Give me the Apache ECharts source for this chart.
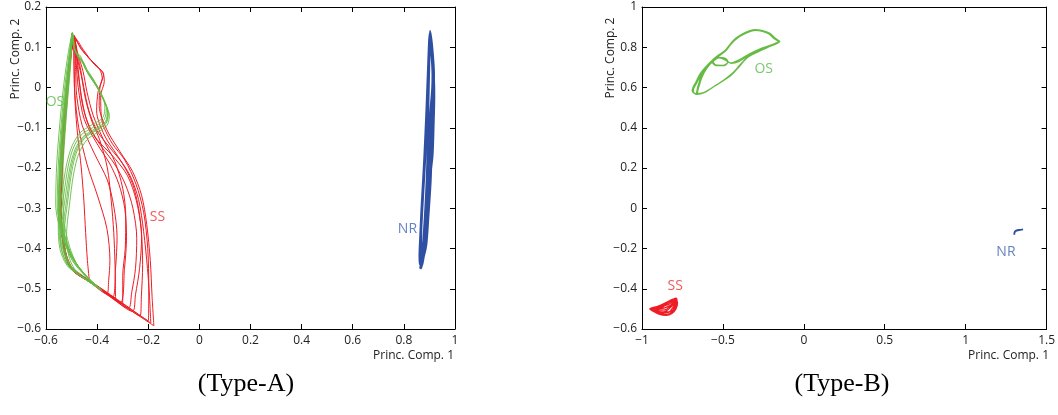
<!DOCTYPE html>
<html><head><meta charset="utf-8">
<script src="https://cdn.jsdelivr.net/npm/echarts@6/dist/echarts.min.js"></script>
<style>html,body{margin:0;padding:0;background:#fff}#c{width:1058px;height:415px}</style>
</head><body><div id="c"></div>
<script>
// ---- tick labels ----
const xTicksA = [-0.6, -0.4, -0.2, 0, 0.2, 0.4, 0.6, 0.8, 1];
const yTicksA = [-0.6, -0.5, -0.4, -0.3, -0.2, -0.1, 0, 0.1, 0.2];
const xTicksB = [-1, -0.5, 0, 0.5, 1, 1.5];
const yTicksB = [-0.6, -0.4, -0.2, 0, 0.2, 0.4, 0.6, 0.8, 1];

// ---- Type-A trajectories (one cycle per inner array) ----
const ssA = [
 [[-0.49,0.13],[-0.47,0.105],[-0.435,0.075],[-0.395,0.05],[-0.375,0.032],[-0.388,0.005],[-0.392,-0.045],[-0.362,-0.105],[-0.312,-0.158],[-0.262,-0.208],[-0.226,-0.268],[-0.206,-0.34],[-0.192,-0.43],[-0.185,-0.52],[-0.178,-0.592],[-0.3,-0.54],[-0.42,-0.487],[-0.5,-0.452],[-0.528,-0.4],[-0.542,-0.3],[-0.537,-0.2],[-0.527,-0.1],[-0.515,0.0],[-0.502,0.08]],
 [[-0.488,0.122],[-0.462,0.095],[-0.425,0.068],[-0.39,0.045],[-0.38,0.022],[-0.396,-0.01],[-0.402,-0.058],[-0.372,-0.118],[-0.322,-0.168],[-0.272,-0.218],[-0.238,-0.278],[-0.218,-0.358],[-0.203,-0.45],[-0.195,-0.52],[-0.19,-0.585],[-0.31,-0.533],[-0.43,-0.482],[-0.502,-0.448],[-0.53,-0.39],[-0.545,-0.29],[-0.54,-0.19],[-0.53,-0.09],[-0.517,0.01],[-0.503,0.085]],
 [[-0.492,0.128],[-0.48,0.09],[-0.466,0.05],[-0.452,0.0],[-0.432,-0.058],[-0.4,-0.108],[-0.352,-0.148],[-0.302,-0.188],[-0.262,-0.238],[-0.238,-0.3],[-0.226,-0.372],[-0.234,-0.45],[-0.25,-0.515],[-0.262,-0.556],[-0.36,-0.512],[-0.45,-0.472],[-0.505,-0.445],[-0.532,-0.38],[-0.546,-0.28],[-0.54,-0.18],[-0.528,-0.08],[-0.515,0.02],[-0.5,0.09]],
 [[-0.49,0.12],[-0.478,0.07],[-0.47,0.02],[-0.458,-0.04],[-0.43,-0.1],[-0.385,-0.145],[-0.332,-0.19],[-0.29,-0.24],[-0.26,-0.3],[-0.245,-0.375],[-0.25,-0.45],[-0.265,-0.51],[-0.278,-0.548],[-0.38,-0.503],[-0.46,-0.468],[-0.503,-0.45],[-0.526,-0.41],[-0.54,-0.32],[-0.538,-0.22],[-0.53,-0.12],[-0.52,-0.02],[-0.505,0.07]],
 [[-0.494,0.125],[-0.482,0.06],[-0.474,0.0],[-0.45,-0.08],[-0.4,-0.14],[-0.35,-0.19],[-0.315,-0.24],[-0.292,-0.3],[-0.285,-0.37],[-0.293,-0.45],[-0.31,-0.535],[-0.4,-0.495],[-0.47,-0.463],[-0.505,-0.447],[-0.53,-0.4],[-0.543,-0.31],[-0.54,-0.21],[-0.532,-0.11],[-0.52,-0.01],[-0.507,0.07]],
 [[-0.49,0.115],[-0.484,0.04],[-0.48,-0.02],[-0.458,-0.095],[-0.41,-0.165],[-0.36,-0.23],[-0.335,-0.295],[-0.322,-0.37],[-0.328,-0.45],[-0.34,-0.522],[-0.43,-0.482],[-0.5,-0.45],[-0.528,-0.4],[-0.54,-0.3],[-0.536,-0.2],[-0.526,-0.1],[-0.514,0.0],[-0.502,0.08]],
 [[-0.493,0.13],[-0.49,0.05],[-0.488,-0.01],[-0.472,-0.1],[-0.44,-0.19],[-0.398,-0.27],[-0.362,-0.35],[-0.35,-0.43],[-0.355,-0.48],[-0.362,-0.513],[-0.44,-0.478],[-0.503,-0.45],[-0.53,-0.39],[-0.544,-0.29],[-0.538,-0.19],[-0.528,-0.09],[-0.516,0.01],[-0.503,0.09]],
 [[-0.49,0.125],[-0.452,0.092],[-0.412,0.058],[-0.378,0.038],[-0.372,0.015],[-0.386,-0.02],[-0.382,-0.08],[-0.342,-0.138],[-0.292,-0.18],[-0.248,-0.24],[-0.218,-0.31],[-0.202,-0.4],[-0.198,-0.5],[-0.2,-0.58],[-0.32,-0.527],[-0.44,-0.475],[-0.504,-0.448],[-0.53,-0.4],[-0.544,-0.3],[-0.54,-0.2],[-0.53,-0.1],[-0.518,0.0],[-0.504,0.08]],
 [[-0.492,0.125],[-0.49,0.04],[-0.486,-0.04],[-0.476,-0.12],[-0.462,-0.2],[-0.452,-0.28],[-0.445,-0.36],[-0.438,-0.43],[-0.43,-0.482],[-0.48,-0.46],[-0.512,-0.44],[-0.535,-0.38],[-0.547,-0.28],[-0.54,-0.18],[-0.53,-0.08],[-0.516,0.02],[-0.502,0.09]],
 [[-0.49,0.128],[-0.48,0.08],[-0.462,0.03],[-0.445,-0.03],[-0.42,-0.085],[-0.39,-0.13],[-0.36,-0.2],[-0.345,-0.28],[-0.335,-0.36],[-0.33,-0.44],[-0.328,-0.525],[-0.42,-0.487],[-0.5,-0.451],[-0.529,-0.39],[-0.543,-0.29],[-0.538,-0.19],[-0.528,-0.09],[-0.515,0.01],[-0.502,0.085]],
 [[-0.491,0.126],[-0.476,0.085],[-0.455,0.04],[-0.44,-0.01],[-0.415,-0.07],[-0.375,-0.13],[-0.33,-0.185],[-0.3,-0.25],[-0.288,-0.32],[-0.29,-0.4],[-0.3,-0.47],[-0.3,-0.538],[-0.41,-0.49],[-0.49,-0.455],[-0.527,-0.4],[-0.542,-0.3],[-0.538,-0.2],[-0.528,-0.1],[-0.516,0.0],[-0.503,0.08]],
 [[-0.489,0.127],[-0.477,0.05],[-0.462,-0.02],[-0.442,-0.078],[-0.402,-0.128],[-0.342,-0.168],[-0.282,-0.218],[-0.247,-0.28],[-0.228,-0.35],[-0.222,-0.44],[-0.227,-0.52],[-0.232,-0.568],[-0.35,-0.516],[-0.45,-0.472],[-0.503,-0.449],[-0.532,-0.39],[-0.545,-0.3],[-0.541,-0.2],[-0.53,-0.1],[-0.518,0.0],[-0.504,0.08],[-0.49,0.13]]
];
const osA = [
 [[-0.497,0.137],[-0.49,0.1],[-0.475,0.078],[-0.455,0.065],[-0.442,0.042],[-0.412,0.016],[-0.382,-0.018],[-0.36,-0.058],[-0.368,-0.085],[-0.412,-0.104],[-0.455,-0.122],[-0.487,-0.155],[-0.507,-0.2],[-0.524,-0.27],[-0.538,-0.35],[-0.53,-0.41],[-0.5,-0.45],[-0.45,-0.474],[-0.39,-0.5],[-0.44,-0.47],[-0.49,-0.43],[-0.524,-0.38],[-0.55,-0.3],[-0.546,-0.2],[-0.536,-0.1],[-0.521,0.0],[-0.506,0.08]],
 [[-0.495,0.132],[-0.485,0.09],[-0.465,0.07],[-0.445,0.05],[-0.43,0.03],[-0.4,0.0],[-0.372,-0.035],[-0.352,-0.07],[-0.362,-0.095],[-0.4,-0.112],[-0.44,-0.13],[-0.472,-0.165],[-0.492,-0.215],[-0.508,-0.29],[-0.52,-0.37],[-0.508,-0.425],[-0.478,-0.46],[-0.432,-0.482],[-0.38,-0.505],[-0.428,-0.48],[-0.474,-0.445],[-0.508,-0.395],[-0.532,-0.32],[-0.534,-0.22],[-0.526,-0.12],[-0.514,-0.02],[-0.502,0.07]],
 [[-0.499,0.134],[-0.494,0.105],[-0.482,0.088],[-0.465,0.078],[-0.452,0.056],[-0.424,0.03],[-0.393,-0.005],[-0.37,-0.045],[-0.377,-0.074],[-0.424,-0.094],[-0.466,-0.112],[-0.498,-0.145],[-0.519,-0.19],[-0.537,-0.26],[-0.552,-0.34],[-0.546,-0.4],[-0.518,-0.442],[-0.466,-0.468],[-0.4,-0.496],[-0.452,-0.462],[-0.502,-0.418],[-0.538,-0.368],[-0.562,-0.29],[-0.558,-0.19],[-0.546,-0.09],[-0.53,0.01],[-0.512,0.09]],
 [[-0.498,0.135],[-0.506,0.07],[-0.518,-0.02],[-0.53,-0.12],[-0.542,-0.22],[-0.55,-0.31],[-0.544,-0.39],[-0.515,-0.44],[-0.46,-0.47],[-0.392,-0.499],[-0.45,-0.465],[-0.5,-0.425],[-0.534,-0.37],[-0.552,-0.3],[-0.548,-0.2],[-0.538,-0.1],[-0.523,0.0],[-0.508,0.08]],
 [[-0.496,0.136],[-0.487,0.092],[-0.468,0.068],[-0.448,0.055],[-0.436,0.034],[-0.406,0.006],[-0.377,-0.028],[-0.356,-0.066],[-0.366,-0.09],[-0.407,-0.108],[-0.449,-0.126],[-0.48,-0.16],[-0.499,-0.208],[-0.515,-0.282],[-0.528,-0.36],[-0.52,-0.418],[-0.49,-0.455],[-0.44,-0.479],[-0.384,-0.502],[-0.433,-0.474],[-0.482,-0.436],[-0.516,-0.388],[-0.542,-0.31],[-0.541,-0.21],[-0.531,-0.11],[-0.517,-0.01],[-0.504,0.075]],
 [[-0.498,0.135],[-0.492,0.102],[-0.478,0.082],[-0.46,0.07],[-0.448,0.048],[-0.418,0.022],[-0.388,-0.012],[-0.364,-0.052],[-0.373,-0.08],[-0.418,-0.1],[-0.461,-0.117],[-0.493,-0.15],[-0.513,-0.195],[-0.53,-0.265],[-0.545,-0.345],[-0.538,-0.405],[-0.51,-0.446],[-0.458,-0.471],[-0.395,-0.498],[-0.446,-0.466],[-0.496,-0.424],[-0.531,-0.374],[-0.556,-0.295],[-0.552,-0.195],[-0.541,-0.095],[-0.526,0.005],[-0.509,0.085]],
 [[-0.497,0.136],[-0.503,0.075],[-0.514,-0.01],[-0.527,-0.11],[-0.539,-0.21],[-0.547,-0.3],[-0.54,-0.385],[-0.51,-0.438],[-0.455,-0.468],[-0.388,-0.5],[-0.446,-0.468],[-0.497,-0.43],[-0.53,-0.375],[-0.549,-0.305],[-0.545,-0.205],[-0.535,-0.105],[-0.52,-0.005],[-0.506,0.078]],
 [[-0.497,0.133],[-0.488,0.097],[-0.471,0.074],[-0.451,0.06],[-0.438,0.038],[-0.408,0.01],[-0.379,-0.024],[-0.358,-0.063],[-0.367,-0.089],[-0.41,-0.107],[-0.452,-0.124],[-0.484,-0.158],[-0.503,-0.204],[-0.519,-0.277],[-0.533,-0.356],[-0.525,-0.414],[-0.495,-0.452],[-0.445,-0.477],[-0.387,-0.502],[-0.437,-0.472],[-0.487,-0.432],[-0.52,-0.384],[-0.546,-0.306],[-0.544,-0.206],[-0.534,-0.106],[-0.519,-0.006],[-0.505,0.078],[-0.497,0.136]]
];
const nrA = [
 [[0.902,0.142],[0.91,0.11],[0.917,0.05],[0.916,-0.03],[0.914,-0.1],[0.908,-0.19],[0.898,-0.29],[0.888,-0.37],[0.877,-0.425],[0.867,-0.45],[0.863,-0.425],[0.867,-0.36],[0.874,-0.28],[0.882,-0.19],[0.889,-0.09],[0.894,0.01],[0.898,0.1]],
 [[0.9,0.135],[0.909,0.1],[0.915,0.04],[0.913,-0.04],[0.91,-0.11],[0.904,-0.2],[0.894,-0.3],[0.884,-0.38],[0.874,-0.43],[0.866,-0.44],[0.865,-0.41],[0.87,-0.34],[0.877,-0.26],[0.885,-0.17],[0.891,-0.07],[0.896,0.03],[0.9,0.12]],
 [[0.903,0.14],[0.912,0.1],[0.919,0.03],[0.917,-0.06],[0.912,-0.13],[0.905,-0.22],[0.895,-0.31],[0.885,-0.39],[0.873,-0.44],[0.864,-0.445],[0.862,-0.4],[0.866,-0.33],[0.873,-0.25],[0.88,-0.16],[0.887,-0.06],[0.893,0.04],[0.898,0.12]],
 [[0.901,0.13],[0.911,0.09],[0.916,0.02],[0.915,-0.05],[0.911,-0.12],[0.906,-0.23],[0.897,-0.32],[0.889,-0.39],[0.879,-0.42],[0.87,-0.43],[0.868,-0.39],[0.872,-0.31],[0.879,-0.23],[0.886,-0.14],[0.892,-0.04],[0.897,0.06],[0.901,0.13]],
 [[0.904,0.12],[0.913,0.07],[0.918,0.0],[0.914,-0.08],[0.909,-0.16],[0.902,-0.25],[0.892,-0.33],[0.882,-0.4],[0.871,-0.44],[0.865,-0.435],[0.866,-0.38],[0.871,-0.3],[0.878,-0.21],[0.884,-0.12],[0.89,-0.02],[0.895,0.07],[0.902,0.14]],
 [[0.905,0.13],[0.912,0.08],[0.91,0.0],[0.9,-0.08],[0.895,-0.16],[0.893,-0.25],[0.885,-0.33],[0.876,-0.4],[0.868,-0.44],[0.872,-0.41],[0.88,-0.35],[0.89,-0.27],[0.9,-0.18],[0.908,-0.1],[0.912,-0.02],[0.91,0.06],[0.905,0.13]],
 [[0.899,0.125],[0.906,0.09],[0.911,0.03],[0.908,-0.05],[0.902,-0.12],[0.897,-0.22],[0.891,-0.29],[0.879,-0.36],[0.869,-0.41],[0.862,-0.44],[0.86,-0.42],[0.863,-0.37],[0.868,-0.3],[0.876,-0.21],[0.884,-0.11],[0.89,-0.02],[0.895,0.06],[0.9,0.13]],
 [[0.903,0.1],[0.915,0.06],[0.92,-0.02],[0.917,-0.1],[0.913,-0.17],[0.9,-0.24],[0.888,-0.31],[0.878,-0.37],[0.868,-0.42],[0.863,-0.45],[0.867,-0.43],[0.875,-0.38],[0.883,-0.3],[0.889,-0.22],[0.893,-0.13],[0.897,-0.04],[0.9,0.05],[0.903,0.12]]
];

// ---- Type-B trajectories ----
const osB = [
 [[-0.15,0.828],[-0.18,0.845],[-0.21,0.87],[-0.25,0.882],[-0.3,0.887],[-0.35,0.875],[-0.41,0.85],[-0.45,0.82],[-0.485,0.785],[-0.53,0.76],[-0.58,0.725],[-0.63,0.68],[-0.665,0.63],[-0.69,0.585],[-0.67,0.568],[-0.62,0.575],[-0.56,0.602],[-0.5,0.632],[-0.45,0.66],[-0.4,0.703],[-0.35,0.748],[-0.29,0.775],[-0.22,0.8]],
 [[-0.155,0.826],[-0.185,0.843],[-0.215,0.866],[-0.255,0.879],[-0.3,0.884],[-0.35,0.872],[-0.405,0.848],[-0.448,0.817],[-0.482,0.782],[-0.525,0.756],[-0.575,0.72],[-0.625,0.675],[-0.66,0.625],[-0.686,0.582],[-0.662,0.566],[-0.612,0.576],[-0.552,0.606],[-0.49,0.64],[-0.44,0.672],[-0.395,0.712],[-0.345,0.752],[-0.28,0.778],[-0.21,0.805]],
 [[-0.152,0.83],[-0.19,0.848],[-0.22,0.872],[-0.26,0.884],[-0.305,0.888],[-0.36,0.874],[-0.415,0.848],[-0.455,0.816],[-0.49,0.78],[-0.535,0.755],[-0.585,0.72],[-0.635,0.675],[-0.668,0.625],[-0.688,0.58],[-0.665,0.567],[-0.65,0.6],[-0.63,0.65],[-0.6,0.695],[-0.56,0.73],[-0.52,0.748],[-0.48,0.742],[-0.47,0.725],[-0.5,0.71],[-0.545,0.712],[-0.56,0.73],[-0.53,0.748],[-0.49,0.738],[-0.45,0.72],[-0.4,0.73],[-0.33,0.765],[-0.25,0.795],[-0.19,0.815]],
 [[-0.148,0.828],[-0.178,0.846],[-0.208,0.868],[-0.248,0.88],[-0.295,0.886],[-0.345,0.876],[-0.4,0.852],[-0.445,0.822],[-0.478,0.788],[-0.52,0.762],[-0.57,0.73],[-0.62,0.688],[-0.655,0.64],[-0.682,0.59],[-0.675,0.57],[-0.63,0.572],[-0.57,0.598],[-0.51,0.628],[-0.46,0.655],[-0.41,0.696],[-0.36,0.742],[-0.3,0.772],[-0.23,0.797]],
 [[-0.15,0.828],[-0.185,0.846],[-0.218,0.87],[-0.258,0.882],[-0.302,0.886],[-0.355,0.873],[-0.41,0.848],[-0.45,0.818],[-0.486,0.783],[-0.53,0.758],[-0.58,0.722],[-0.63,0.678],[-0.664,0.628],[-0.688,0.583],[-0.668,0.569],[-0.655,0.605],[-0.635,0.655],[-0.605,0.7],[-0.565,0.733],[-0.525,0.75],[-0.485,0.745],[-0.468,0.728],[-0.495,0.708],[-0.54,0.708],[-0.565,0.725],[-0.535,0.752],[-0.492,0.742],[-0.455,0.722],[-0.405,0.735],[-0.335,0.768],[-0.255,0.797],[-0.19,0.815],[-0.15,0.828]]
];
const ssB = [
 [[-0.95,-0.5],[-0.9,-0.49],[-0.85,-0.476],[-0.812,-0.46],[-0.792,-0.448],[-0.784,-0.465],[-0.795,-0.495],[-0.815,-0.518],[-0.842,-0.53],[-0.88,-0.526],[-0.92,-0.513]],
 [[-0.945,-0.502],[-0.895,-0.494],[-0.85,-0.482],[-0.815,-0.468],[-0.795,-0.455],[-0.79,-0.47],[-0.8,-0.498],[-0.82,-0.52],[-0.845,-0.528],[-0.882,-0.522],[-0.918,-0.51]],
 [[-0.948,-0.498],[-0.9,-0.486],[-0.855,-0.47],[-0.82,-0.455],[-0.8,-0.45],[-0.792,-0.468],[-0.805,-0.5],[-0.825,-0.522],[-0.85,-0.532],[-0.885,-0.528],[-0.922,-0.515]],
 [[-0.952,-0.5],[-0.905,-0.492],[-0.86,-0.484],[-0.83,-0.475],[-0.805,-0.462],[-0.795,-0.475],[-0.805,-0.505],[-0.83,-0.524],[-0.855,-0.53],[-0.89,-0.524],[-0.925,-0.51]],
 [[-0.95,-0.5],[-0.9,-0.5],[-0.86,-0.495],[-0.82,-0.48],[-0.795,-0.455],[-0.79,-0.478],[-0.81,-0.505],[-0.84,-0.515],[-0.88,-0.515],[-0.93,-0.505]],
 [[-0.948,-0.503],[-0.9,-0.506],[-0.86,-0.505],[-0.83,-0.49],[-0.805,-0.47],[-0.787,-0.452],[-0.788,-0.475],[-0.8,-0.51],[-0.83,-0.527],[-0.87,-0.53],[-0.91,-0.52]],
 [[-0.945,-0.5],[-0.91,-0.497],[-0.87,-0.49],[-0.84,-0.47],[-0.81,-0.455],[-0.795,-0.45],[-0.8,-0.47],[-0.82,-0.49],[-0.85,-0.51],[-0.885,-0.52],[-0.93,-0.51]],
 [[-0.95,-0.5],[-0.905,-0.51],[-0.87,-0.52],[-0.84,-0.52],[-0.82,-0.505],[-0.8,-0.48],[-0.79,-0.455],[-0.78,-0.47],[-0.79,-0.5],[-0.815,-0.523],[-0.85,-0.533],[-0.9,-0.525],[-0.94,-0.507]],
 [[-0.947,-0.5],[-0.9,-0.488],[-0.852,-0.472],[-0.815,-0.456],[-0.79,-0.446],[-0.783,-0.462],[-0.792,-0.492],[-0.812,-0.515],[-0.84,-0.53],[-0.878,-0.528],[-0.915,-0.514],[-0.95,-0.5]]
];
const nrB = [
 [[1.3,-0.13],[1.302,-0.118],[1.312,-0.11],[1.335,-0.107],[1.355,-0.106]],
 [[1.34,-0.108],[1.315,-0.112],[1.303,-0.12],[1.301,-0.132]],
 [[1.302,-0.125],[1.306,-0.114],[1.32,-0.109],[1.35,-0.107]]
];

// ---- annotation labels: [text, x, y] ----
const labelsA = [['OS', -0.565, -0.036], ['SS', -0.164, -0.321], ['NR', 0.814, -0.351]];
const labelsB = [['OS', -0.248, 0.692], ['SS', -0.795, -0.386], ['NR', 1.249, -0.219]];
const labelColors = {OS: '#5cb947', SS: '#ee3030', NR: '#3d63b3'};
const lineColors = {OS: '#66bb44', SS: '#ee1c24', NR: '#2f4fa2'};

const flat = cycles => cycles.reduce((a, c) => a.concat(c), []);
const step = t => Math.round((t[1] - t[0]) * 1e6) / 1e6;
const fmt = v => String(Math.round(v * 1000) / 1000).replace('-', '\u2212');
const FONT = 'Open Sans';

function xAx(grid, ticks, pos, show) {
  return {type: 'value', gridIndex: grid, position: pos, min: ticks[0], max: ticks[ticks.length - 1], interval: step(ticks),
    axisLine: {show: true, onZero: false, lineStyle: {color: '#000', width: 1}},
    axisTick: {show: true, inside: true, length: 5, lineStyle: {color: '#000', width: 1}},
    axisLabel: {show: show, margin: 6, color: '#222', fontFamily: FONT, fontSize: 12, formatter: fmt, showMinLabel: true, showMaxLabel: true, hideOverlap: false},
    splitLine: {show: false}};
}
function yAx(grid, ticks, pos, show) {
  const a = xAx(grid, ticks, pos, show);
  a.axisLabel.margin = 5;
  return a;
}
function lineSeries(xi, cycles, key, w, z) {
  return {type: 'line', xAxisIndex: xi, yAxisIndex: xi, data: flat(cycles), symbol: 'none', showSymbol: false,
    smooth: 0.3, silent: true, z: z, lineStyle: {color: lineColors[key], width: w}};
}
function labelSeries(xi, labels) {
  return {type: 'scatter', xAxisIndex: xi, yAxisIndex: xi, symbolSize: 1, silent: true, z: 20,
    itemStyle: {color: 'transparent'},
    data: labels.map(l => ({value: [l[1], l[2]], label: {formatter: l[0], color: labelColors[l[0]]}})),
    label: {show: true, position: 'inside', fontFamily: FONT, fontSize: 14}};
}

const chart = echarts.init(document.getElementById('c'), null, {renderer: 'canvas'});
chart.setOption({
  animation: false,
  backgroundColor: '#fff',
  grid: [
    {left: 46, top: 7, width: 409, height: 322, containLabel: false},
    {left: 642, top: 7, width: 409, height: 322, containLabel: false}
  ],
  xAxis: [xAx(0, xTicksA, 'bottom', true), xAx(1, xTicksB, 'bottom', true), xAx(0, xTicksA, 'top', false), xAx(1, xTicksB, 'top', false)],
  yAxis: [yAx(0, yTicksA, 'left', true), yAx(1, yTicksB, 'left', true), yAx(0, yTicksA, 'right', false), yAx(1, yTicksB, 'right', false)],
  series: [
    lineSeries(0, ssA, 'SS', 1, 2),
    lineSeries(0, osA, 'OS', 0.9, 3),
    lineSeries(0, nrA, 'NR', 1.5, 3),
    labelSeries(0, labelsA),
    lineSeries(1, ssB, 'SS', 1.2, 2),
    lineSeries(1, osB, 'OS', 1.2, 3),
    lineSeries(1, nrB, 'NR', 1.6, 3),
    labelSeries(1, labelsB)
  ],
  graphic: [
    {type: 'text', x: 454, y: 356, silent: true, style: {text: 'Princ. Comp. 1', fontFamily: FONT, fontSize: 12, fill: '#222', align: 'right', verticalAlign: 'middle'}},
    {type: 'text', x: 1049, y: 356, silent: true, style: {text: 'Princ. Comp. 1', fontFamily: FONT, fontSize: 12, fill: '#222', align: 'right', verticalAlign: 'middle'}},
    {type: 'text', x: 16, y: 59, rotation: Math.PI / 2, silent: true, style: {text: 'Princ. Comp. 2', fontFamily: FONT, fontSize: 12, fill: '#222', align: 'center', verticalAlign: 'middle'}},
    {type: 'text', x: 611, y: 58, rotation: Math.PI / 2, silent: true, style: {text: 'Princ. Comp. 2', fontFamily: FONT, fontSize: 12, fill: '#222', align: 'center', verticalAlign: 'middle'}},
    {type: 'text', x: 246, y: 384, silent: true, style: {text: '(Type-A)', fontFamily: 'Liberation Serif', fontSize: 26, fill: '#000', align: 'center', verticalAlign: 'middle'}},
    {type: 'text', x: 842, y: 384, silent: true, style: {text: '(Type-B)', fontFamily: 'Liberation Serif', fontSize: 26, fill: '#000', align: 'center', verticalAlign: 'middle'}}
  ]
});
</script>
</body></html>
